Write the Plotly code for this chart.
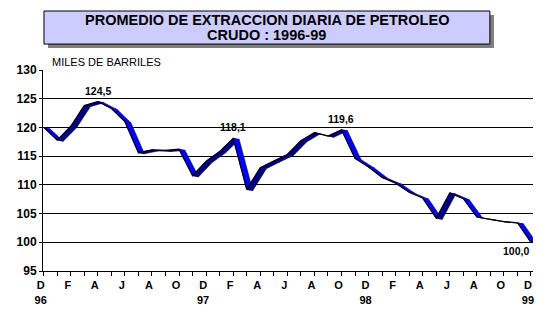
import plotly.graph_objects as go

# Months Dec 1996 .. Dec 1999 (index 0..36)
month_idx = list(range(37))
values = [120.0, 117.8, 120.2, 123.8, 124.5, 123.3, 121.0, 115.6, 116.1, 116.0,
          116.2, 111.6, 114.1, 115.8, 118.1, 109.2, 113.0, 114.2, 115.3, 117.7,
          119.1, 118.5, 119.6, 114.6, 113.1, 111.3, 110.3, 108.7, 107.7, 104.2,
          108.6, 107.6, 104.4, 104.0, 103.6, 103.4, 100.0]
month_letters = ["D", "", "F", "", "A", "", "J", "", "A", "", "O", "",
                 "D", "", "F", "", "A", "", "J", "", "A", "", "O", "",
                 "D", "", "F", "", "A", "", "J", "", "A", "", "O", "", "D"]
year_labels = {0: "96", 12: "97", 24: "98", 36: "99"}
highlight = {4: "124,5", 14: "118,1", 22: "119,6", 36: "100,0"}
y_ticks = [95, 100, 105, 110, 115, 120, 125, 130]

title_line1 = "PROMEDIO DE EXTRACCION DIARIA DE PETROLEO"
title_line2 = "CRUDO : 1996-99"
unit_text = "MILES DE BARRILES"

FONT = "Liberation Sans, Arial, sans-serif"
DX, DY = 0.45, -0.2  # ribbon depth (data units)

fig = go.Figure()

# 3D ribbon faces
for i in range(len(values) - 1):
    x0, x1 = month_idx[i], month_idx[i + 1]
    y0, y1 = values[i], values[i + 1]
    color = "#000080" if y1 > y0 else "#0000FF"
    fig.add_trace(go.Scatter(
        x=[x0, x1, x1 + DX, x0 + DX, x0],
        y=[y0, y1, y1 + DY, y0 + DY, y0],
        mode="lines", fill="toself", fillcolor=color,
        line=dict(color="#000050", width=0.5),
        hoverinfo="skip", showlegend=False))

# top edge line
fig.add_trace(go.Scatter(x=month_idx, y=values, mode="lines",
                         line=dict(color="black", width=1.2),
                         showlegend=False))

ticktext = []
for i, m in enumerate(month_letters):
    if m:
        ticktext.append(m + "<br>" + year_labels.get(i, " "))
    else:
        ticktext.append("")

fig.update_xaxes(range=[-0.05, 36.15], tickmode="array", tickvals=month_idx,
                 ticktext=ticktext, ticks="outside", ticklen=4, tickcolor="black",
                 ticklabelshift=-3,
                 showline=True, linecolor="black", linewidth=1, showgrid=False,
                 zeroline=False,
                 tickfont=dict(family=FONT, size=11, color="black", weight="bold"))
fig.update_yaxes(range=[95, 130], tickmode="array", tickvals=y_ticks,
                 ticks="outside", ticklen=3, tickcolor="black",
                 showline=True, linecolor="black", linewidth=1,
                 showgrid=True, gridcolor="black", gridwidth=1, zeroline=False,
                 tickfont=dict(family=FONT, size=12, color="black", weight="bold"))

# value annotations
for i, txt in highlight.items():
    if i == len(values) - 1:
        fig.add_annotation(x=month_idx[i], y=values[i], text=txt, showarrow=False,
                           xanchor="right", yanchor="top", yshift=-1,
                           font=dict(family=FONT, size=10.5, color="black", weight="bold"))
    else:
        fig.add_annotation(x=month_idx[i], y=values[i], text=txt, showarrow=False,
                           xanchor="center", yanchor="bottom", yshift=3,
                           font=dict(family=FONT, size=10.5, color="black", weight="bold"))

# title box with shadow
fig.add_shape(type="rect", xref="paper", yref="paper", x0=0.0102, x1=0.9204,
              y0=1.1095, y1=1.2736, fillcolor="#808080", line=dict(width=0), layer="above")
fig.add_shape(type="rect", xref="paper", yref="paper", x0=0.002, x1=0.912,
              y0=1.129, y1=1.2935, fillcolor="#CCCCFF", line=dict(color="black", width=1),
              layer="above")
fig.add_annotation(xref="paper", yref="paper", x=0.457, y=1.249, text=title_line1,
                   showarrow=False, xanchor="center", yanchor="middle",
                   font=dict(family=FONT, size=14.5, color="black", weight="bold"))
fig.add_annotation(xref="paper", yref="paper", x=0.457, y=1.174, text=title_line2,
                   showarrow=False, xanchor="center", yanchor="middle",
                   font=dict(family=FONT, size=14.5, color="black", weight="bold"))
fig.add_annotation(xref="paper", yref="paper", x=0.014, y=1.04, text=unit_text,
                   showarrow=False, xanchor="left", yanchor="middle",
                   font=dict(family=FONT, size=11, color="black"))

fig.update_layout(width=553, height=325, margin=dict(l=43, r=20, t=70, b=54),
                  paper_bgcolor="white", plot_bgcolor="white",
                  font=dict(family=FONT))

fig.write_html("out.html")
